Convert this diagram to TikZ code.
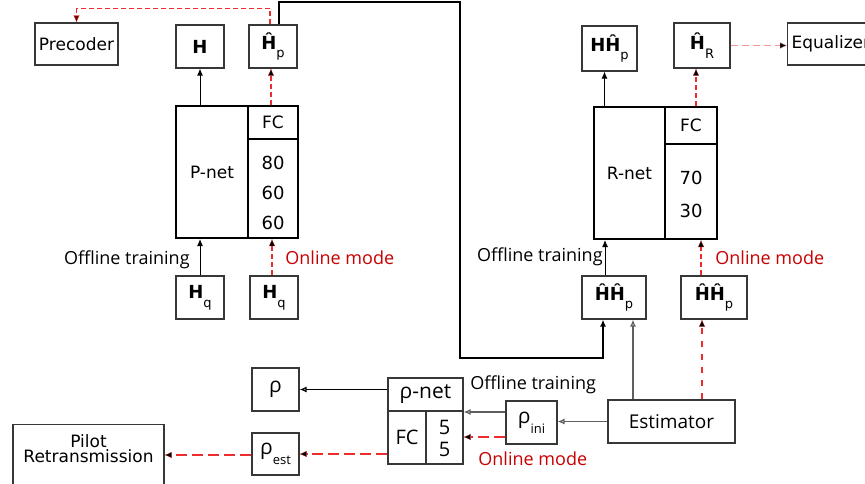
\documentclass[tikz,border=0pt]{standalone}
\usepackage{fontspec}
\setmainfont{DejaVu Sans}
\newfontfamily\labfont{Open Sans}
\usetikzlibrary{arrows.meta,positioning}
\definecolor{onlinered}{RGB}{235,45,45}
\definecolor{onlinetext}{RGB}{200,0,0}
\definecolor{framegray}{RGB}{55,55,55}
\definecolor{estgray}{RGB}{95,95,95}
\newcommand{\lowsub}[1]{\raisebox{-0.9ex}{\mdseries\fontsize{6.5}{7}\selectfont #1}}

\begin{document}
\begin{tikzpicture}[x=0.5pt, y=-0.5pt,
    every node/.style={font=\fontsize{8.5}{10}\selectfont},
    blk/.style={draw=framegray, line width=0.6pt, inner sep=0pt},
    netbox/.style={draw=black, line width=1pt, inner sep=0pt},
    arr/.style={-{Latex[length=3.5pt,width=3pt]}, line width=0.5pt},
    link/.style={line width=1pt},
    online/.style={color=onlinered, line width=0.6pt, dash pattern=on 2.5pt off 1.5pt, -{Latex[length=3.5pt,width=3pt,fill=black,line width=0.1pt]}},
    onlinelong/.style={color=onlinered, line width=0.6pt, dash pattern=on 5.5pt off 2.5pt, -{Latex[length=3.5pt,width=3pt,fill=black,line width=0.1pt]}},
    onlinepale/.style={onlinelong, color=onlinered!50, line width=0.8pt, dash pattern=on 3.5pt off 2pt},
    estline/.style={-{Latex[open,length=3.5pt,width=3pt]}, draw=estgray, line width=0.6pt},
    modelab/.style={font=\labfont\fontsize{9}{11}\selectfont, inner sep=0pt},
    rholab/.style={font=\labfont\fontsize{10.5}{12}\selectfont}]
    \fill[white] (0,0) rectangle (865,483);
    \useasboundingbox (0,0) rectangle (865,483);

    % P-net side
    \node[blk, minimum width=41.5pt, minimum height=21pt] (prec) at (76.5,44) {Precoder};
    \node[blk, minimum width=24pt, minimum height=21.5pt, font=\bfseries\fontsize{9}{10}\selectfont] (h) at (200,46.5) {H};
    \node[blk, minimum width=24pt, minimum height=21.5pt, font=\bfseries\fontsize{9}{10}\selectfont] (hp) at (273,46.5) {Ĥ\lowsub{p}};
    \node[netbox, minimum width=36pt, minimum height=66pt] (pnet) at (212,172) {P-net};
    \node[netbox, minimum width=25pt, minimum height=16.5pt] (pfc) at (273,122.5) {FC};
    \node[netbox, minimum width=25pt, minimum height=49.5pt] (pnum) at (273,188.5) {};
    \node[align=center, font=\fontsize{9}{15}\selectfont] (pnumtxt) at (273,192.5) {80\\60\\60};
    \node[blk, minimum width=24pt, minimum height=21.5pt, font=\bfseries\fontsize{9}{10}\selectfont] (hq1) at (200,297.5) {H\lowsub{q}};
    \node[blk, minimum width=24pt, minimum height=21.5pt, font=\bfseries\fontsize{9}{10}\selectfont] (hq2) at (274,297.5) {H\lowsub{q}};
    \node[modelab, anchor=east] (offp) at (190,260) {Offline training};
    \node[modelab, anchor=west, text=onlinetext] (onp) at (285,258) {Online mode};

    % R-net side
    \node[blk, minimum width=27.5pt, minimum height=22.5pt, font=\bfseries\fontsize{9}{10}\selectfont] (hhp) at (609.5,48.5) {HĤ\lowsub{p}};
    \node[blk, minimum width=28pt, minimum height=22.5pt, font=\bfseries\fontsize{9}{10}\selectfont] (hr) at (702,45.5) {Ĥ\lowsub{R}};
    \node[blk, anchor=west, minimum height=21pt, inner xsep=2pt, text width=46pt, align=left] (eq) at (787,44) {Equalizer};
    \node[netbox, minimum width=35.5pt, minimum height=66pt] (rnet) at (629.5,173) {R-net};
    \node[netbox, minimum width=26pt, minimum height=18.5pt] (rfc) at (691,125.5) {FC};
    \node[netbox, minimum width=26pt, minimum height=47.5pt] (rnum) at (691,191.5) {};
    \node[align=center, font=\fontsize{9}{16.5}\selectfont] (rnumtxt) at (691,194.5) {70\\30};
    \node[blk, minimum width=32pt, minimum height=21.5pt, font=\bfseries\fontsize{9}{10}\selectfont] (hhp1) at (614,297.5) {ĤĤ\lowsub{p}};
    \node[blk, minimum width=33pt, minimum height=21.5pt, font=\bfseries\fontsize{9}{10}\selectfont] (hhp2) at (714,297.5) {ĤĤ\lowsub{p}};
    \node[modelab, anchor=east] (offr) at (603,257) {Offline training};
    \node[modelab, anchor=west, text=onlinetext] (onr) at (715,258) {Online mode};

    % rho-net part
    \node[blk, minimum width=63.5pt, minimum height=21.5pt, font=\labfont\fontsize{9.5}{11}\selectfont] (est) at (671.5,421.5) {Estimator};
    \node[blk, minimum width=25.5pt, minimum height=21.5pt, rholab] (rhoini) at (531.5,422.5) {ρ\lowsub{ini}};
    \node[blk, minimum width=37.5pt, minimum height=16.5pt, rholab] (rhonet) at (425.5,394.5) {ρ-net};
    \node[blk, minimum width=19pt, minimum height=26.5pt, font=\labfont\fontsize{10}{12}\selectfont] (rhofc) at (407,437.5) {FC};
    \node[blk, minimum width=18.5pt, minimum height=26.5pt] (rhonum) at (444.5,437.5) {};
    \node[align=center, font=\labfont\fontsize{10}{11}\selectfont] (rhonumtxt) at (444.5,438.5) {5\\5};
    \node[blk, minimum width=23.5pt, minimum height=21.5pt, rholab] (rho) at (275.5,389.5) {ρ};
    \node[blk, minimum width=23.5pt, minimum height=21pt, rholab] (rhoest) at (275.5,454) {ρ\lowsub{est}};
    \node[blk, minimum width=75.5pt, minimum height=40pt, anchor=north] (pilot) at (88.5,424) {};
    \node[align=center, font=\fontsize{8.5}{7.8}\selectfont] (pilottxt) at (88.5,448.5) {Pilot\\Retransmission};
    \node[modelab, anchor=west] (offrho) at (470,385) {Offline training};
    \node[modelab, anchor=west, text=onlinetext] (onrho) at (478,459) {Online mode};

    % connectors
    \coordinate (fbtop) at (0,8.7);
    \coordinate (linktop) at (460,2);
    \coordinate (linkbot) at (460,358);
    \draw[online, -{Latex[length=3.5pt,width=3pt,fill=red!45!black,line width=0.1pt]}] ([xshift=-1.5pt]hp.north) -- ([xshift=-1.5pt]hp.north |- fbtop) -| (prec.north);
    \draw[arr, link] ([xshift=3pt]hp.north) |- (linktop) -- (linkbot) -| ([xshift=-5.5pt]hhp1.south);
    \draw[arr] (h.south |- pnet.north) -- (h.south);
    \draw[online] ([xshift=-1pt]hp.south |- pfc.north) -- ([xshift=-1pt]hp.south);
    \draw[arr] (hq1.north) -- (hq1.north |- pnet.south);
    \draw[online] ([xshift=-1pt]hq2.north) -- ([xshift=-1pt]hq2.north |- pnum.south);

    \draw[arr] ([xshift=-2.5pt]hhp.south |- rnet.north) -- ([xshift=-2.5pt]hhp.south);
    \draw[online] ([xshift=-3pt]hr.south |- rfc.north) -- ([xshift=-3pt]hr.south);
    \draw[onlinepale] (hr.east) -- (hr.east -| eq.west);
    \draw[arr] ([xshift=-4.5pt]hhp1.north) -- ([xshift=-4.5pt]hhp1.north |- rnet.south);
    \draw[online] ([xshift=-6.5pt]hhp2.north) -- ([xshift=-6.5pt]hhp2.north |- rnum.south);

    \draw[estline] ([xshift=-19.25pt]est.north) -- ([xshift=-19.25pt]est.north |- hhp1.south);
    \draw[online, dash pattern=on 3pt off 3.5pt] ([xshift=15.25pt]est.north) -- ([xshift=15.25pt]est.north |- hhp2.south);
    \draw[estline] (est.west) -- (rhoini.east |- est.west);
    \draw[estline] ([yshift=5.25pt]rhoini.west) -- ([yshift=5.25pt]rhoini.west -| rhonum.east);
    \draw[onlinelong] ([yshift=-7.25pt]rhoini.west) -- ([yshift=-7.25pt]rhoini.west -| rhonum.east);
    \draw[estline, draw=black] (rho.east -| rhonet.west) -- (rho.east);
    \draw[onlinelong] (rhoest.east -| rhofc.west) -- (rhoest.east);
    \draw[onlinelong] ([yshift=-0.5pt]rhoest.west) -- ([yshift=-0.5pt]rhoest.west -| pilot.east);
\end{tikzpicture}
\end{document}
